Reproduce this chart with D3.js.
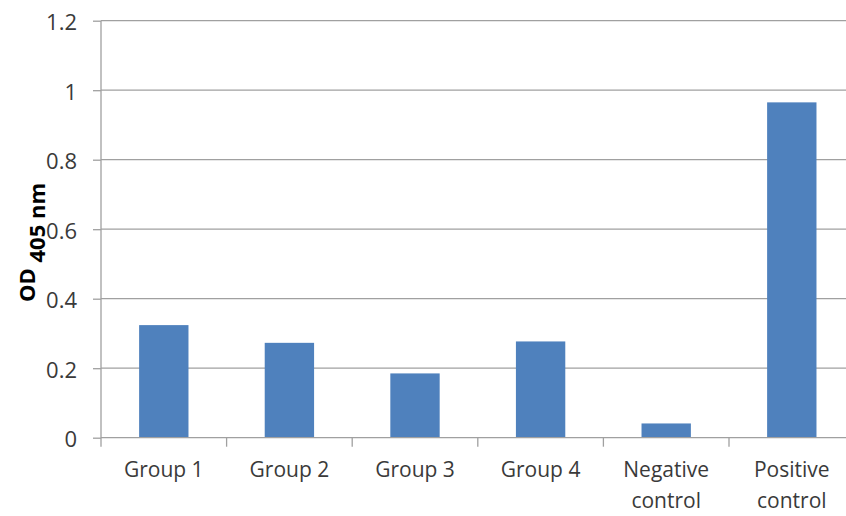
<!DOCTYPE html>
<html>
<head>
<meta charset="utf-8">
<script src="https://cdn.jsdelivr.net/npm/d3@7"></script>
<style>
  html, body { margin: 0; padding: 0; background: #fff; }
  svg { display: block; }
</style>
</head>
<body>
<svg id="chart" width="846" height="516"></svg>
<script>
const categories = [["Group 1"], ["Group 2"], ["Group 3"], ["Group 4"], ["Negative", "control"], ["Positive", "control"]];
const values = [0.324, 0.273, 0.185, 0.277, 0.041, 0.965];
const yTicks = [0, 0.2, 0.4, 0.6, 0.8, 1, 1.2];
const yTickLabels = ["0", "0.2", "0.4", "0.6", "0.8", "1", "1.2"];

const W = 846, H = 516;
const plotLeft = 101, plotTop = 20.7, plotBottom = 437.7, plotRight = 854.6;
const font = "'Open Sans', sans-serif";
const textColor = "#3a3a3a";
const gridColor = "#a0a0a0";

const svg = d3.select("#chart");

const x = d3.scaleBand()
  .domain(categories.map((d, i) => i))
  .range([plotLeft, plotRight])
  .paddingInner(0.607)
  .paddingOuter(0.3035);

const y = d3.scaleLinear().domain([0, 1.2]).range([plotBottom, plotTop]);

// gridlines
svg.append("g").selectAll("line")
  .data(yTicks.filter(t => t > 0))
  .join("line")
  .attr("x1", plotLeft).attr("x2", W)
  .attr("y1", d => y(d)).attr("y2", d => y(d))
  .attr("stroke", gridColor).attr("stroke-width", 1.3);

// y axis
const yAxis = d3.axisLeft(y).tickValues(yTicks)
  .tickFormat((d, i) => yTickLabels[i]).tickSize(8).tickPadding(16);
const gy = svg.append("g").attr("transform", `translate(${plotLeft},0)`).call(yAxis);
gy.select(".domain").remove();
gy.selectAll(".tick line").attr("stroke", gridColor).attr("stroke-width", 1.3);
gy.selectAll(".tick text").attr("font-family", font).attr("font-size", 22)
  .attr("fill", textColor).attr("dy", "0.4em");
svg.append("line").attr("x1", plotLeft).attr("x2", plotLeft).attr("y1", plotTop).attr("y2", plotBottom + 9)
  .attr("stroke", gridColor).attr("stroke-width", 1.3);

// bars
svg.append("g").selectAll("rect")
  .data(values)
  .join("rect")
  .attr("x", (d, i) => x(i))
  .attr("width", x.bandwidth())
  .attr("y", d => y(d))
  .attr("height", d => y(0) - y(d))
  .attr("fill", "#4f81bd");

// x axis baseline
svg.append("line").attr("x1", plotLeft).attr("x2", W).attr("y1", plotBottom).attr("y2", plotBottom)
  .attr("stroke", gridColor).attr("stroke-width", 1.3);
// category boundary ticks
svg.append("g").selectAll("line")
  .data(categories.map((d, i) => i).slice(1))
  .join("line")
  .attr("x1", i => x(i) - x.step() * 0.3035).attr("x2", i => x(i) - x.step() * 0.3035)
  .attr("y1", plotBottom).attr("y2", plotBottom + 9)
  .attr("stroke", gridColor).attr("stroke-width", 1.3);

// x labels
const xl = svg.append("g").selectAll("text")
  .data(categories)
  .join("text")
  .attr("x", (d, i) => x(i) + x.bandwidth() / 2)
  .attr("y", 477)
  .attr("text-anchor", "middle")
  .attr("font-family", font).attr("font-size", 21).attr("fill", textColor);
xl.each(function(d) {
  const t = d3.select(this);
  d.forEach((line, j) => {
    t.append("tspan").attr("x", t.attr("x")).attr("dy", j === 0 ? 0 : 31).text(line);
  });
});

// y title
const yt = svg.append("text")
  .attr("transform", "translate(35,302) rotate(-90)")
  .attr("font-family", font).attr("font-size", 22).attr("font-weight", "bold").attr("fill", "#000");
yt.append("tspan").text("OD ");
yt.append("tspan").attr("dy", 10).text("405 nm");
</script>
</body>
</html>
